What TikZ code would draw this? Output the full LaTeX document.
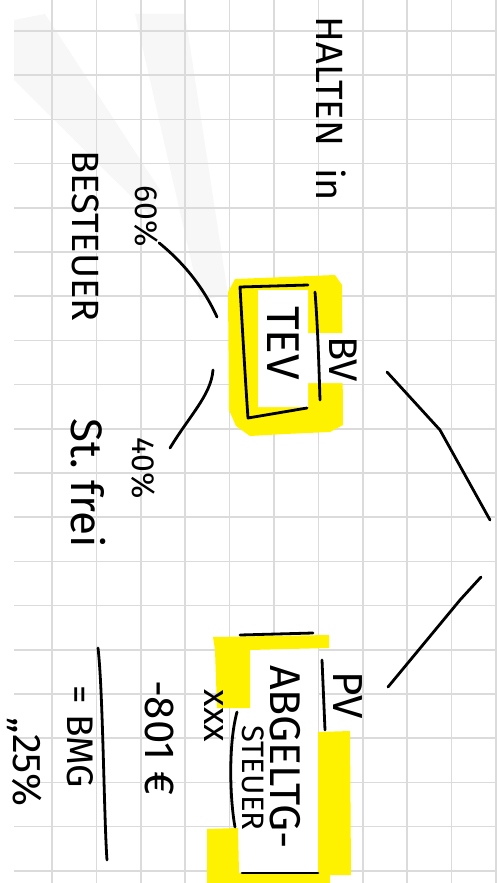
\documentclass[tikz,border=0pt]{standalone}
\usepackage{fontspec}
\setmainfont{Fira Sans}
\usepackage{graphicx}

\begin{document}
\begin{tikzpicture}[x=1pt, y=-1pt,
  pen/.style={line width=2.8pt, line cap=round, line join=round},
  hand/.style={rotate=-90, inner sep=0pt, font=\fontsize{#1}{#1}\selectfont},
  hand/.default=38,
  marker/.style={fill=yellow},
  gridline/.style={draw=black!14, line width=1.5pt},
]
  \useasboundingbox (0,0) rectangle (497,883);
  \fill[white] (0,0) rectangle (497,883);

  % faint watermark
  \fill[black!3] (135,14) -- (185,14) -- (228,295) -- (200,300) -- cycle;
  \fill[black!3] (14,20) -- (45,14) -- (160,190) -- (150,215) -- (14,80) -- cycle;

  % paper grid
  \foreach \gx in {52,96.4,...,497}
    \draw[gridline] (\gx,0) -- (\gx,883);
  \foreach \gy in {31,75.2,...,883}
    \draw[gridline] (14,\gy) -- (497,\gy);

  % highlighter
  \fill[marker] (228,292) -- (235,279) -- (335,275) -- (342,285) -- (343,425)
    -- (330,432) -- (285,434) -- (250,436) -- (236,426) -- (229,410) -- cycle;
  \fill[white] (258,290) -- (308,290) -- (308,333) -- (343,333) -- (343,383)
    -- (308,383) -- (308,407) -- (258,407) -- cycle;
  \fill[white] (236,646) rectangle (318,873);
  \fill[marker] (213,637) -- (329,635) -- (329,648) -- (250,650) -- (250,708)
    -- (217,708) -- (215,650) -- cycle;
  \fill[marker] (318,732) -- (350,731) -- (351,875) -- (318,875) -- cycle;
  \fill[marker] (207,829) -- (238,828) -- (239,873) -- (330,873) -- (330,883)
    -- (207,883) -- cycle;

  % texts
  \node[hand] (halten) at (331,109) {HALTEN\hspace{22pt}in};
  \node[hand] (bsteuer) at (86,236) {BESTEUER};
  \node[hand=32] (p60) at (146,216) {60\%};
  \node[hand=46] (tev) at (283,343) {TEV};
  \node[hand=40] (bv) at (343,359) {BV};
  \node[hand=32] (p40) at (143,468) {40\%};
  \node[hand=44] (stfrei) at (88,483) {St.\ frei};
  \node[hand=42] (pv) at (348,695) {PV};
  \node[hand=43] (abg) at (285,757) {ABGELTG-};
  \node[hand=31] (steuer) at (253,778) {STEUER};
  \node[hand=36] (xxx) at (214,716) {xxx};
  \node[hand=42] (freib) at (160,738) {-801 €};
  \node[hand=37] (bmg) at (80,737) {= BMG};
  \node[hand=40] (satz) at (25,762) {„25\%};

  % frames
  \draw[pen] (308,285) -- (240,287) .. controls (243,340) and (246,390) .. (248,418)
    -- (307,408);
  \draw[pen] (315,292) .. controls (318,330) and (319,370) .. (320,400);
  \draw[pen] (240,635) -- (313,633);
  \draw[pen] (242,873) -- (318,873);
  \draw[pen] (322,660) -- (325,730);
  \draw[pen] (237,712) .. controls (228,745) and (230,800) .. (235,827);

  % fraction bar
  \coordinate (bartop) at (98,648);
  \coordinate (barend) at (107,860);
  \draw[pen] (bartop) .. controls (103,690) and (104,820) .. (barend);

  % connectors
  \coordinate (tevin) at (217,317);
  \coordinate (tevout) at (213,370);
  \coordinate (bvout) at (387,372);
  \coordinate (knee) at (490,520);
  \coordinate (knee2) at (481,577);
  \coordinate (pvin) at (388,687);
  \draw[pen] (p60.north east) ++(1,-4) .. controls (190,268) and (207,295) .. (tevin);
  \draw[pen] (tevout) .. controls (211,395) and (190,415) .. (170,448);
  \draw[pen] (bvout) -- (440,430) -- (knee);
  \draw[pen] (knee2) -- (460,600) -- (pvin);
\end{tikzpicture}
\end{document}
